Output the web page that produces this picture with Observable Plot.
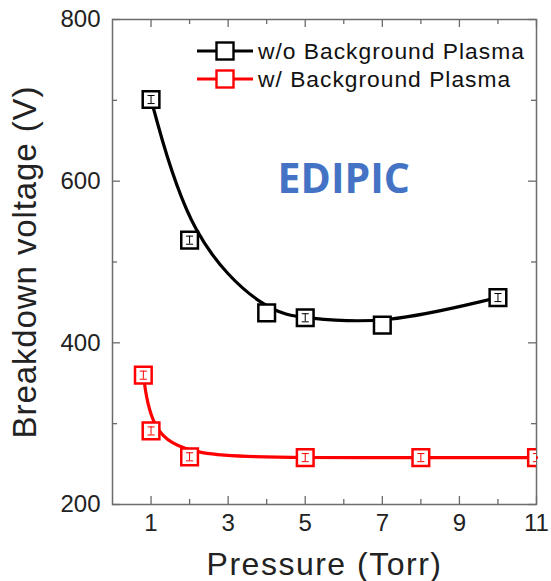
<!DOCTYPE html>
<html>
<head>
<meta charset="utf-8">
<script src="https://cdn.jsdelivr.net/npm/d3@7"></script>
<script src="https://cdn.jsdelivr.net/npm/@observablehq/plot@0.6"></script>
<style>
  html, body { margin: 0; padding: 0; background: #fff; }
  #wrap { position: relative; width: 551px; height: 581px; font-family: "Liberation Sans", Arial, sans-serif; }
  #legend { position: absolute; left: 195px; top: 37px; font-size: 22.8px; letter-spacing: 1px; color: #111; }
  #legend .row { display: flex; align-items: center; height: 28px; }
  #legend svg { margin-right: 3px; }
</style>
</head>
<body>
<div id="wrap"></div>
<script>
// ---- data ----
const seriesNames = ["w/o Background Plasma", "w/ Background Plasma"];
const seriesColors = ["#000000", "#ff0000"];
const pressureNo = [1, 2, 4, 5, 7, 10];
const voltageNo = [701, 527, 437, 431, 422, 456];
const errorNo = [5, 5, null, 5, null, 5];
const pressureW = [0.8, 1, 2, 5, 8, 11];
const voltageW = [360, 291, 259, 258, 258, 258];
const errorW = [5, 5, 5, 5, 5, 5];
const majorX = [1, 3, 5, 7, 9, 11];
const minorX = [2, 4, 6, 8, 10];
const majorY = [200, 400, 600, 800];
const minorY = [300, 500, 700];
const annotText = ["EDIPIC"];
const annotX = [6];
const annotY = [602];

const rows = [
  ...pressureNo.map((p, i) => ({s: 0, x: p, y: voltageNo[i], e: errorNo[i]})),
  ...pressureW.map((p, i) => ({s: 1, x: p, y: voltageW[i], e: errorW[i]}))
];
const rowsNo = rows.filter(d => d.s === 0);
const rowsW = rows.filter(d => d.s === 1);
const withErr = rows.filter(d => d.e != null);
const annots = annotText.map((t, i) => ({t, x: annotX[i], y: annotY[i]}));

const hline = {
  draw(context, size) {
    const w = Math.sqrt(size) / 2;
    context.moveTo(-w, 0);
    context.lineTo(w, 0);
  }
};

const W = 551, H = 581, ML = 112, MR = 15, MT = 19, MB = 77;
const FW = W - ML - MR, FH = H - MT - MB;
const MAJ = 8, MIN = 5;
const axisGray = "#6b6b6b";
const tk = {stroke: axisGray, strokeWidth: 1.3};

const plot = Plot.plot({
  width: W,
  height: H,
  marginLeft: ML,
  marginRight: MR,
  marginTop: MT,
  marginBottom: MB,
  style: {fontFamily: "Liberation Sans, Arial, sans-serif", fontSize: "24px", color: "#222", background: "#fff", overflow: "visible"},
  x: {domain: [0, 11], axis: null},
  y: {domain: [200, 800], axis: null},
  marks: [
    // inward ticks on all four sides
    Plot.tickX(majorX, {x: d => d, insetTop: FH - MAJ, ...tk}),
    Plot.tickX(minorX, {x: d => d, insetTop: FH - MIN, ...tk}),
    Plot.tickX(majorX, {x: d => d, insetBottom: FH - MAJ, ...tk}),
    Plot.tickX(minorX, {x: d => d, insetBottom: FH - MIN, ...tk}),
    Plot.tickY(majorY, {y: d => d, insetRight: FW - MAJ, ...tk}),
    Plot.tickY(minorY, {y: d => d, insetRight: FW - MIN, ...tk}),
    Plot.tickY(majorY, {y: d => d, insetLeft: FW - MAJ, ...tk}),
    Plot.tickY(minorY, {y: d => d, insetLeft: FW - MIN, ...tk}),
    // tick labels
    Plot.axisX({anchor: "bottom", ticks: majorX, tickSize: 0, tickPadding: 9, fontSize: 24, label: null, fill: "#222"}),
    Plot.axisY({anchor: "left", ticks: majorY, tickSize: 0, tickPadding: 12, fontSize: 24, label: null, fill: "#222"}),
    // axis titles
    Plot.axisX({anchor: "bottom", ticks: [], tickSize: 0, label: "Pressure (Torr)", labelAnchor: "center", labelOffset: 70, labelArrow: "none", fontSize: 32, fill: "#222"}),
    Plot.axisY({anchor: "left", ticks: [], tickSize: 0, label: "Breakdown voltage (V)", labelAnchor: "center", labelOffset: 100, labelArrow: "none", fontSize: 33, fill: "#222"}),
    Plot.frame({stroke: axisGray, strokeWidth: 1.5}),
    // curves
    Plot.line(rowsNo, {x: "x", y: "y", curve: "basis", stroke: seriesColors[0], strokeWidth: 3.2}),
    Plot.line(rowsW, {x: "x", y: "y", curve: "basis", stroke: seriesColors[1], strokeWidth: 3.2}),
    // markers
    Plot.dot(rows, {x: "x", y: "y", symbol: "square", r: 9.4, fill: "white", stroke: d => seriesColors[d.s], strokeWidth: 2.5, clip: true}),
    // error bars inside markers
    Plot.ruleX(withErr, {x: "x", y1: d => d.y - d.e, y2: d => d.y + d.e, stroke: d => seriesColors[d.s], strokeWidth: 1, clip: true}),
    Plot.dot(withErr, {x: "x", y: d => d.y - d.e, symbol: hline, r: 4, stroke: d => seriesColors[d.s], strokeWidth: 1, clip: true}),
    Plot.dot(withErr, {x: "x", y: d => d.y + d.e, symbol: hline, r: 4, stroke: d => seriesColors[d.s], strokeWidth: 1, clip: true}),
    // annotation
    Plot.text(annots, {x: "x", y: "y", text: "t", fill: "#4472c4", fontSize: 41, fontWeight: "bold", fontFamily: "Open Sans, Lato, sans-serif", textAnchor: "middle", lineAnchor: "middle"})
  ]
});

const wrap = document.getElementById("wrap");
wrap.appendChild(plot);
plot.style.position = "absolute";
plot.style.left = "0";
plot.style.top = "0";

// letter spacing for axis titles (to match the reference's wider type)
const xl = plot.querySelector('[aria-label="x-axis label"]');
if (xl) xl.style.letterSpacing = "1.5px";
const yl = plot.querySelector('[aria-label="y-axis label"]');
if (yl) yl.style.letterSpacing = "0.9px";

// legend
const legend = document.createElement("div");
legend.id = "legend";
seriesNames.forEach((name, i) => {
  const row = document.createElement("div");
  row.className = "row";
  const c = seriesColors[i];
  row.innerHTML = `<svg width="60" height="24" viewBox="0 0 60 24"><line x1="2" y1="12" x2="58" y2="12" stroke="${c}" stroke-width="3"/><rect x="21.5" y="3.5" width="17" height="17" fill="white" stroke="${c}" stroke-width="2.4"/></svg><span>${name}</span>`;
  legend.appendChild(row);
});
wrap.appendChild(legend);
</script>
</body>
</html>
